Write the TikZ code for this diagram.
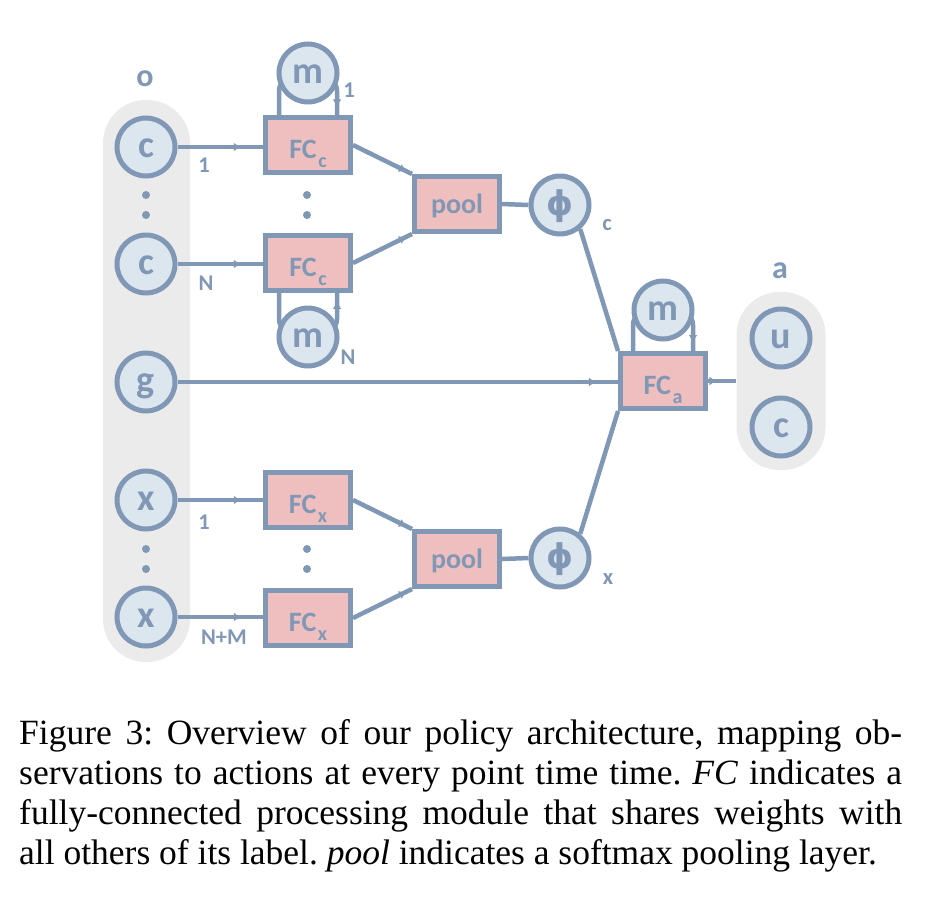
\documentclass[tikz,border=0pt]{standalone}
\usepackage{fontspec}
\setmainfont{Liberation Serif}
\newfontfamily\carlito{Carlito}
\newfontfamily\dejavu{DejaVu Sans}
\usetikzlibrary{arrows.meta,decorations.markings,calc}
\definecolor{edgec}{HTML}{8097B6}
\definecolor{cfill}{HTML}{DCE6EE}
\definecolor{bfill}{HTML}{EFBEBF}
\definecolor{pillc}{HTML}{EBEBEB}
\newcommand\fcsub[1]{\kern1.5pt\raisebox{-9pt}[0pt][0pt]{\fontsize{20}{20}\selectfont #1}}
\newcommand\phisym{{\dejavu\bfseries\fontsize{34}{34}\selectfont ϕ}}
\tikzset{
 circ/.style={circle, draw=edgec, fill=cfill, line width=5pt, minimum size=58pt, inner sep=0pt,
   text=edgec, text height=20pt, text depth=0pt, font=\carlito\bfseries\fontsize{38}{38}\selectfont},
 box/.style={rectangle, draw=edgec, fill=bfill, line width=5pt, minimum width=85pt, minimum height=55pt,
   inner sep=0pt, text=edgec, text height=26pt, text depth=0pt, font=\carlito\bfseries\fontsize{28}{28}\selectfont},
 poolbox/.style={box, text height=18pt},
 conn/.style={draw=edgec, line width=4.5pt},
 midtip/.style={postaction={decorate}, decoration={markings, mark=at position #1 with {\arrow{Latex[length=7pt,width=9pt]}}}},
 lab/.style={text=edgec, font=\carlito\bfseries\fontsize{22.5}{22.5}\selectfont, inner sep=0pt},
 biglab/.style={text=edgec, font=\carlito\bfseries\fontsize{32}{32}\selectfont, inner sep=0pt},
 pill/.style={fill=pillc, rounded corners=43pt, inner sep=0pt},
 dotn/.style={circle, fill=edgec, inner sep=0pt, minimum size=8pt},
}
\begin{document}
\begin{tikzpicture}[x=1pt,y=-1pt]
\useasboundingbox[fill=white] (0,0) rectangle (934,900);

% group backgrounds
\node[pill, minimum width=87pt, minimum height=562pt] (opill) at (146.5,381) {};
\node[pill, minimum width=89pt, minimum height=178pt] (apill) at (781,381) {};
\node[biglab] (olab) at (145,79) {o};
\node[biglab] (alab) at (780,271) {a};

% input circles
\node[circ] (c1) at (146,147) {c};
\node[circ] (c2) at (146,264) {c};
\node[circ] (g) at (146,382) {g};
\node[circ] (x1) at (146,500) {x};
\node[circ] (x2) at (146,617) {x};

% FC boxes
\node[box] (fcc1) at (308,145) {FC\fcsub{c}};
\node[box] (fcc2) at (308,263) {FC\fcsub{c}};
\node[box] (fcx1) at (308,500) {FC\fcsub{x}};
\node[box] (fcx2) at (308,618) {FC\fcsub{x}};
\node[box] (fca) at (663,381) {FC\fcsub{a}};

% pools and phis
\node[poolbox] (poolc) at (457,204) {pool};
\node[poolbox] (poolx) at (457,559) {pool};
\node[circ] (phic) at (560,205) {\phisym};
\node[circ] (phix) at (560,558) {\phisym};

% output circles
\node[circ] (u) at (781,338) {u};
\node[circ] (ca) at (781,427) {c};

% dots
\foreach \xx/\yy [count=\i] in {146/195,146/215,307/195,307/215,146/549,146/569,307/549,307/569}
  \node[dotn] (dot\i) at (\xx,\yy) {};

% connectors from inputs
\draw[conn, midtip=0.74] (c1.east) -- (c1.east -| fcc1.west);
\draw[conn, midtip=0.74] (c2.east) -- (c2.east -| fcc2.west);
\draw[conn, midtip=0.74] (x1.east) -- (x1.east -| fcx1.west);
\draw[conn, midtip=0.74] (x2.east) -- (x2.east -| fcx2.west);
\draw[conn, midtip=0.95] (g.east) -- (g.east -| fca.west);

% FC to pool
\draw[conn, midtip=0.9] (fcc1.east) -- (poolc.north west);
\draw[conn, midtip=0.9] (fcc2.east) -- (poolc.south west);
\draw[conn, midtip=0.9] (fcx1.east) -- (poolx.north west);
\draw[conn, midtip=0.9] (fcx2.east) -- (poolx.south west);

% pool to phi
\draw[conn, midtip=0.12] (poolc.east) -- (phic.west);
\draw[conn, midtip=0.12] (poolx.east) -- (phix.west);

% phi to FC_a
\draw[conn] (phic.-50) -- (fca.north west);
\draw[conn] (phix.50) -- (fca.south west);

% FC_a to output group
\draw[conn, midtip=0.3] (fca.east) -- (apill.west);

% memory loops
\draw[conn, rounded corners=14pt, midtip=0.93] ([xshift=-29pt]fcc1.north) -- ++(0,-38) -- ++(58,0) -- ([xshift=29pt]fcc1.north);
\draw[conn, rounded corners=14pt, midtip=0.93] ([xshift=-29pt]fcc2.south) -- ++(0,40) -- ++(58,0) -- ([xshift=29pt]fcc2.south);
\draw[conn, rounded corners=14pt, midtip=0.93] ([xshift=-30pt]fca.north) -- ++(0,-40) -- ++(60,0) -- ([xshift=30pt]fca.north);
\node[circ] (m1) at (308,73) {m};
\node[circ] (m2) at (308,337) {m};
\node[circ] (ma) at (663,310) {m};

% labels
\node[lab] (l1) at (204,165) {1};
\node[lab] (lN) at (206,283) {N};
\node[lab] (lx1) at (204,522) {1};
\node[lab] (lxN) at (224,637) {N+M};
\node[lab] (lm1) at (349,90) {1};
\node[lab] (lmN) at (348,357) {N};
\node[lab] (lc) at (607,225) {c};
\node[lab] (lx) at (608,579) {x};

% caption
\node[anchor=north west, text width=883pt, align=justify, inner sep=0pt,
  font=\fontsize{35.5}{40}\selectfont\frenchspacing] (cap) at (19,719)
 {Figure 3: Overview of our policy architecture, mapping ob-\linebreak
  servations to actions at every point time time. \textit{FC} indicates a\linebreak
  fully-connected processing module that shares weights with\linebreak
  all others of its label. \textit{pool} indicates a softmax pooling layer.};
\end{tikzpicture}
\end{document}
